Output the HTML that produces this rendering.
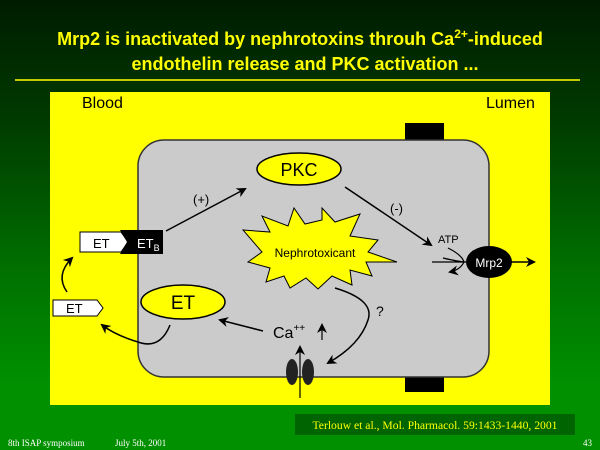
<!DOCTYPE html>
<html><head><style>
body{margin:0;width:600px;height:450px;overflow:hidden;font-family:"Liberation Sans",sans-serif;}
.bg{position:absolute;left:0;top:0;width:600px;height:450px;background:linear-gradient(#001c00 0%,#003800 25%,#007000 60%,#009000 85%,#009000 100%);}
</style></head><body>
<div class="bg"></div>
<svg width="600" height="450" style="position:absolute;left:0;top:0" font-family="Liberation Sans, sans-serif">
<defs><marker id="a" markerWidth="10" markerHeight="10" refX="8" refY="5" orient="auto" markerUnits="userSpaceOnUse"><path d="M0,0 L10,5 L0,10 L3,5z" fill="#000"/></marker></defs>
<text x="300" y="45" text-anchor="middle" font-size="18" font-weight="bold" fill="#ffff00">Mrp2 is inactivated by nephrotoxins throuh Ca<tspan font-size="12" dy="-7">2+</tspan><tspan dy="7">-induced</tspan></text>
<text x="305" y="70" text-anchor="middle" font-size="18" font-weight="bold" fill="#ffff00">endothelin release and PKC activation ...</text>
<line x1="15" y1="80" x2="580" y2="80" stroke="#ffff00" stroke-width="1.5"/>
<rect x="50" y="92" width="500" height="313" fill="#ffff00"/>
<text x="82" y="108" font-size="16" fill="#000">Blood</text>
<text x="486" y="108" font-size="16" fill="#000">Lumen</text>
<rect x="405" y="123" width="39" height="18" fill="#000"/>
<rect x="405" y="376" width="39" height="16" fill="#000"/>
<rect x="138" y="140" width="351" height="237" rx="26" fill="#cbcbcb" stroke="#333" stroke-width="1.5"/>
<ellipse cx="299" cy="169" rx="42" ry="16" fill="#ffff00" stroke="#000" stroke-width="1.5"/>
<text x="299" y="176" text-anchor="middle" font-size="18">PKC</text>
<ellipse cx="183" cy="302" rx="42" ry="17" fill="#ffff00" stroke="#000" stroke-width="1.5"/>
<text x="183" y="309" text-anchor="middle" font-size="19">ET</text>
<polygon points="243,230 270,232 262,216 288,226 294,208 305,224 322,220 322,208 335,222 360,214 350,236 378,240 368,252 397,262 366,262 372,276 350,270 352,285 332,276 318,289 306,278 290,288 284,276 266,282 270,268 248,262 262,252" fill="#ffff00" stroke="#000" stroke-width="1"/>
<text x="315" y="257" text-anchor="middle" font-size="12">Nephrotoxicant</text>
<line x1="166" y1="231" x2="245" y2="189" stroke="#000" stroke-width="1.5" marker-end="url(#a)"/>
<text x="193" y="204" font-size="13">(+)</text>
<line x1="345" y1="187" x2="431" y2="245" stroke="#000" stroke-width="1.5" marker-end="url(#a)"/>
<text x="390" y="213" font-size="13">(-)</text>
<text x="438" y="243" font-size="11">ATP</text>
<path d="M443,258 Q460,262 466,262 L432,262" fill="none" stroke="#000" stroke-width="1.2"/>
<path d="M448,248 Q462,255 464,262 Q460,270 450,272" fill="none" stroke="#000" stroke-width="1.2" marker-end="url(#a)"/>
<ellipse cx="489" cy="262" rx="23" ry="16" fill="#000"/>
<text x="489" y="267" text-anchor="middle" font-size="12" fill="#fff">Mrp2</text>
<line x1="511" y1="262" x2="534" y2="262" stroke="#000" stroke-width="1.5" marker-end="url(#a)"/>
<polygon points="80,232 121,232 128,242 121,252 80,252" fill="#fff" stroke="#000"/>
<text x="93" y="248" font-size="13">ET</text>
<polygon points="120,230 163,230 163,254 120,254 127,242" fill="#000"/>
<text x="137" y="248" font-size="13" fill="#fff">ET<tspan font-size="9" dy="3">B</tspan></text>
<polygon points="53,300 97,300 103,308 97,316 53,316" fill="#fff" stroke="#000"/>
<text x="66" y="313" font-size="13">ET</text>
<path d="M67,292 Q55,275 72,258" fill="none" stroke="#000" stroke-width="1.5" marker-end="url(#a)"/>
<path d="M170,325 Q160,350 138,342 Q115,335 102,325" fill="none" stroke="#000" stroke-width="1.5" marker-end="url(#a)"/>
<line x1="263" y1="331" x2="220" y2="320" stroke="#000" stroke-width="1.5" marker-end="url(#a)"/>
<text x="273" y="338" font-size="16">Ca<tspan font-size="10" dy="-7">++</tspan></text>
<line x1="322" y1="340" x2="322" y2="325" stroke="#000" stroke-width="1.2" marker-end="url(#a)"/>
<ellipse cx="292" cy="372" rx="6" ry="13" fill="#222"/>
<ellipse cx="308" cy="372" rx="6" ry="13" fill="#222"/>
<line x1="300" y1="398" x2="300" y2="347" stroke="#000" stroke-width="1.2" marker-end="url(#a)"/>
<path d="M335,288 Q375,300 368,320 Q360,345 328,363" fill="none" stroke="#000" stroke-width="1.5" marker-end="url(#a)"/>
<text x="376" y="316" font-size="14">?</text>
<rect x="295" y="414" width="280" height="21" fill="#006400"/>
<text x="435" y="429" text-anchor="middle" font-family="Liberation Serif, serif" font-size="12" fill="#ffff00" textLength="245" lengthAdjust="spacingAndGlyphs">Terlouw et al., Mol. Pharmacol. 59:1433-1440, 2001</text>
<text x="8" y="446" font-family="Liberation Serif, serif" font-size="9" fill="#fff">8th ISAP symposium</text>
<text x="115" y="446" font-family="Liberation Serif, serif" font-size="9" fill="#fff">July 5th, 2001</text>
<text x="583" y="446" font-family="Liberation Serif, serif" font-size="9" fill="#fff">43</text>
</svg>
</body></html>
